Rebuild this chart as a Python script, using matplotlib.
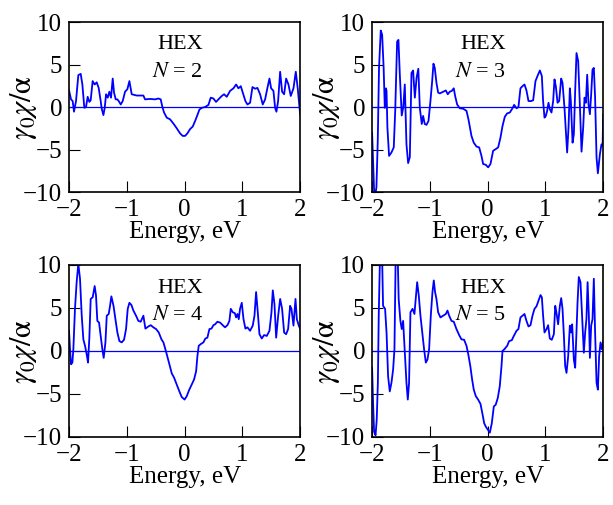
import matplotlib
matplotlib.use("Agg")
import matplotlib.pyplot as plt

plt.rcParams['font.family'] = ['Liberation Serif', 'DejaVu Serif']
plt.rcParams['mathtext.fontset'] = 'stix'

# N = 2
e2 = [-2.000, -1.965, -1.937, -1.914, -1.879, -1.839, -1.798, -1.769, -1.735, -1.706,
      -1.677, -1.648, -1.625, -1.591, -1.556, -1.521, -1.487, -1.452, -1.434, -1.405,
      -1.382, -1.359, -1.330, -1.302, -1.273, -1.244, -1.221, -1.192, -1.163, -1.140,
      -1.105, -1.071, -1.030, -0.990, -0.955, -0.915, -0.828, -0.713, -0.684, -0.597,
      -0.511, -0.453, -0.413, -0.384, -0.355, -0.309, -0.251, -0.193, -0.136, -0.078,
      -0.032, 0.009, 0.049, 0.095, 0.141, 0.182, 0.222, 0.257, 0.297, 0.355,
      0.413, 0.453, 0.499, 0.545, 0.586, 0.644, 0.684, 0.730, 0.788, 0.846,
      0.892, 0.932, 0.973, 1.007, 1.053, 1.088, 1.134, 1.175, 1.221, 1.261,
      1.307, 1.353, 1.394, 1.434, 1.469, 1.498, 1.538, 1.567, 1.590, 1.619,
      1.654, 1.688, 1.723, 1.758, 1.798, 1.838, 1.885, 1.925, 1.960, 2.000]
chi2 = [1.95, 0.9, 0.7, -0.55, 0.7, 3.75, 3.9, 2.65, -0.1, 0.0,
        1.2, 0.6, 0.8, 3.05, 2.65, 2.9, 2.25, 0.7, -0.2, -0.95,
        -0.1, 1.5, 1.1, 1.8, 1.1, 3.35, 1.7, 0.9, 0.9, 0.7,
        0.3, 0.7, 1.8, 2.1, 3.05, 1.5, 1.35, 1.35, 0.9, 0.95,
        0.9, 1.0, 0.9, 0.0, -0.65, -1.25, -1.45, -1.95, -2.5, -3.1,
        -3.4, -3.4, -3.1, -2.6, -2.3, -1.65, -0.95, -0.3, -0.1, 0.0,
        0.25, 1.1, 1.0, 0.6, 0.9, 1.3, 1.5, 1.2, 1.9, 2.2,
        2.65, 2.2, 2.45, 1.7, 0.7, 0.3, 0.5, 2.35, 2.15, 2.25,
        1.5, 0.3, 0.9, 2.25, 3.35, 2.2, 1.9, -0.1, -0.55, 0.7,
        4.15, 1.8, 1.5, 3.35, 2.65, 1.3, 2.2, 4.15, 2.1, -0.85]

# N = 3
e3 = [-2.0, -1.983, -1.965, -1.948, -1.925, -1.902, -1.88, -1.85, -1.826, -1.80,
      -1.78, -1.76, -1.75, -1.735, -1.706, -1.665, -1.625, -1.60, -1.567, -1.544,
      -1.52, -1.487, -1.46, -1.434, -1.405, -1.376, -1.347, -1.318, -1.29, -1.26,
      -1.23, -1.20, -1.174, -1.14, -1.117, -1.088, -1.059, -1.024, -0.99, -0.96,
      -0.938, -0.915, -0.886, -0.857, -0.828, -0.77, -0.724, -0.69, -0.655, -0.62,
      -0.586, -0.563, -0.528, -0.482, -0.424, -0.366, -0.332, -0.31, -0.28, -0.24,
      -0.193, -0.147, -0.107, -0.078, -0.032, 0.009, 0.049, 0.095, 0.141, 0.182,
      0.222, 0.257, 0.297, 0.338, 0.384, 0.43, 0.459, 0.50, 0.533, 0.568,
      0.603, 0.638, 0.672, 0.707, 0.753, 0.788, 0.828, 0.863, 0.904, 0.938,
      0.96, 0.984, 1.007, 1.03, 1.053, 1.076, 1.105, 1.134, 1.157, 1.18,
      1.21, 1.238, 1.273, 1.296, 1.33, 1.353, 1.376, 1.40, 1.423, 1.44,
      1.47, 1.492, 1.515, 1.538, 1.567, 1.596, 1.625, 1.654, 1.677, 1.70,
      1.723, 1.746, 1.77, 1.792, 1.815, 1.838, 1.86, 1.885, 1.908, 1.943,
      1.97, 1.99, 2.0]
chi3 = [-3.0, -6.3, -9.85, -10.5, -9.45, -4.0, 4.6, 9.0, 8.5, 4.6,
        -0.1, 2.2, 1.9, -2.4, -5.75, -5.35, -4.75, -0.5, 7.7, 7.9,
        3.8, -1.0, 0.0, 2.65, -4.4, -6.6, -5.9, 4.0, 4.3, 1.1,
        3.45, 4.5, -0.1, -2.0, -1.05, -2.0, -2.1, -1.65, 0.7, 3.05,
        5.1, 4.6, 2.85, 1.7, 1.6, 1.8, 1.95, 1.5, 1.8, 1.9,
        2.2, 1.3, 0.3, -0.15, -0.2, -0.45, -1.45, -2.25, -3.4, -4.2,
        -4.65, -4.75, -5.75, -6.7, -6.8, -7.1, -6.7, -5.15, -4.95, -4.75,
        -3.6, -2.25, -1.15, -0.75, -0.65, -0.15, 0.25, -0.15, 0.0, 2.2,
        2.45, 2.65, 1.95, 0.7, 0.7, 0.8, 3.05, 3.65, 4.3, 3.65,
        0.7, -1.25, -1.05, -0.45, 0.5, -0.25, -0.65, 0.7, 3.25, 2.45,
        0.5, 0.7, 3.35, 2.85, -0.1, -2.8, -5.35, -2.4, 2.2, 0.7,
        -4.2, -3.2, 1.9, 6.35, 5.4, 0.3, -5.25, -2.4, 1.1, 0.5,
        3.8, 0.3, -0.85, 1.5, 4.4, 4.6, 1.1, -5.95, -7.8, -5.55,
        -4.4, -4.55, -0.85]

# N = 4
e4 = [-2.0, -1.983, -1.965, -1.942, -1.925, -1.897, -1.868, -1.839, -1.81, -1.78,
      -1.752, -1.723, -1.694, -1.671, -1.648, -1.625, -1.59, -1.556, -1.533, -1.51,
      -1.48, -1.452, -1.423, -1.40, -1.37, -1.347, -1.313, -1.29, -1.267, -1.23,
      -1.197, -1.163, -1.128, -1.088, -1.048, -1.013, -0.984, -0.955, -0.92, -0.886,
      -0.84, -0.80, -0.76, -0.713, -0.678, -0.626, -0.586, -0.54, -0.493, -0.447,
      -0.40, -0.366, -0.332, -0.30, -0.263, -0.222, -0.182, -0.136, -0.09, -0.05,
      0.0, 0.038, 0.078, 0.124, 0.165, 0.20, 0.222, 0.245, 0.28, 0.326,
      0.36, 0.395, 0.43, 0.465, 0.50, 0.528, 0.568, 0.615, 0.66, 0.70,
      0.742, 0.776, 0.80, 0.834, 0.87, 0.892, 0.915, 0.938, 0.96, 0.99,
      1.02, 1.053, 1.088, 1.134, 1.18, 1.21, 1.238, 1.267, 1.296, 1.336,
      1.376, 1.423, 1.469, 1.504, 1.527, 1.556, 1.585, 1.62, 1.654, 1.688,
      1.723, 1.758, 1.792, 1.827, 1.85, 1.885, 1.92, 1.943, 1.977, 2.0]
chi4 = [2.35, 0.2, -1.55, -1.35, 0.2, 4.9, 8.0, 10.15, 8.4, 4.1,
        1.35, 0.6, -0.4, -1.35, 1.55, 6.05, 6.25, 7.55, 6.45, 3.5,
        3.3, 1.75, 0.2, -0.8, 1.0, 4.1, 4.3, 5.25, 6.35, 5.25,
        3.7, 2.15, 1.15, 1.0, 1.3, 2.55, 4.9, 5.6, 5.35, 4.7,
        4.1, 3.5, 3.4, 4.1, 2.6, 2.85, 3.0, 2.75, 2.55, 2.15,
        1.35, 1.0, 0.2, -0.6, -1.55, -2.6, -3.1, -3.9, -4.7, -5.35,
        -5.65, -5.25, -4.55, -3.9, -3.3, -2.35, -0.6, 0.6, 0.8, 1.0,
        1.45, 1.55, 2.55, 2.6, 3.0, 3.1, 3.4, 3.3, 3.0, 2.75,
        3.0, 3.5, 4.9, 4.5, 4.4, 3.9, 4.3, 3.7, 4.9, 5.6,
        3.7, 2.6, 2.75, 2.35, 2.95, 4.1, 6.85, 4.5, 1.95, 1.45,
        1.85, 1.75, 2.35, 4.5, 7.05, 5.45, 1.55, 4.1, 6.05, 4.9,
        2.15, 1.95, 2.55, 5.25, 4.9, 2.95, 6.05, 3.7, 2.95, 2.6]

# N = 5
e5 = [-2.0, -1.983, -1.965, -1.94, -1.92, -1.90, -1.885, -1.86, -1.83, -1.81,
      -1.775, -1.75, -1.723, -1.694, -1.665, -1.636, -1.613, -1.59, -1.56, -1.54,
      -1.51, -1.487, -1.463, -1.434, -1.405, -1.382, -1.36, -1.336, -1.30, -1.267,
      -1.244, -1.22, -1.192, -1.163, -1.128, -1.10, -1.07, -1.042, -1.013, -0.984,
      -0.955, -0.932, -0.91, -0.886, -0.857, -0.817, -0.77, -0.724, -0.695, -0.666,
      -0.626, -0.586, -0.54, -0.493, -0.453, -0.407, -0.366, -0.332, -0.30, -0.269,
      -0.24, -0.205, -0.165, -0.124, -0.09, -0.06, -0.032, 0.009, 0.038, 0.072,
      0.107, 0.14, 0.176, 0.21, 0.24, 0.257, 0.29, 0.338, 0.372, 0.418,
      0.453, 0.50, 0.533, 0.568, 0.603, 0.638, 0.672, 0.707, 0.742, 0.776,
      0.811, 0.846, 0.88, 0.915, 0.938, 0.96, 0.984, 1.02, 1.047, 1.076,
      1.11, 1.146, 1.17, 1.19, 1.22, 1.25, 1.273, 1.296, 1.32, 1.342,
      1.365, 1.394, 1.423, 1.446, 1.463, 1.492, 1.515, 1.538, 1.556, 1.578,
      1.607, 1.642, 1.665, 1.688, 1.71, 1.73, 1.752, 1.77, 1.792, 1.815,
      1.838, 1.86, 1.885, 1.908, 1.93, 1.954, 1.977, 2.0]
chi5 = [-1.95, -6.05, -9.4, -9.8, -8.0, -3.7, 4.1, 12.0, 12.0, 5.25,
        4.9, 2.15, -2.95, -4.7, -3.7, -2.15, 0.2, 12.0, 12.0, 6.05,
        3.5, 2.55, 3.5, -0.2, -3.7, -5.65, -3.7, 4.5, 4.9, 4.3,
        6.05, 8.0, 6.45, 4.1, 1.95, 0.2, -1.35, -1.0, 0.2, 4.1,
        6.85, 8.2, 6.85, 6.05, 4.5, 3.9, 4.1, 4.3, 4.7, 4.1,
        3.5, 3.4, 2.55, 1.85, 1.35, 1.3, 0.6, -0.5, -1.75, -3.3,
        -4.5, -5.25, -5.65, -6.15, -7.3, -8.4, -8.8, -9.2, -9.5, -8.4,
        -6.45, -6.25, -5.45, -4.1, -1.75, 0.0, 0.2, 0.6, 1.15, 1.25,
        1.75, 2.35, 2.55, 3.9, 4.1, 4.3, 3.5, 2.85, 3.0, 4.1,
        4.9, 5.2, 5.85, 6.5, 6.25, 4.1, 2.15, 2.55, 3.0, 1.45,
        1.3, 1.95, 5.25, 4.5, 3.1, 5.25, 6.15, 4.9, 1.75, -1.75,
        -2.55, -0.6, 2.95, 2.15, 3.1, -1.0, -1.95, 2.15, 5.65, 8.6,
        8.0, 2.95, -0.2, 2.15, 3.7, 8.0, 4.1, -0.8, 2.95, 3.7,
        8.4, 2.15, -3.7, -4.5, -0.6, 1.0, 0.2, 1.15]

panels = [(e2, chi2, "2"), (e3, chi3, "3"), (e4, chi4, "4"), (e5, chi5, "5")]
boxes = [[0.1126, 0.6198, 0.377, 0.3366],
         [0.607, 0.6198, 0.377, 0.3366],
         [0.1126, 0.1347, 0.377, 0.3406],
         [0.607, 0.1347, 0.377, 0.3406]]

fig = plt.figure(figsize=(6.13, 5.05), dpi=100)

for (e, chi, n), box in zip(panels, boxes):
    ax = fig.add_axes(box)
    ax.axhline(0, color='#0000ff', lw=0.9)
    ax.plot(e, chi, color='#0000ff', lw=1.3)
    ax.set_xlim(-2, 2)
    ax.set_ylim(-10, 10)
    ax.set_xticks([-2, -1, 0, 1, 2])
    ax.set_yticks([-10, -5, 0, 5, 10])
    ax.tick_params(direction='in', length=8, width=0.8, labelsize=18,
                   top=False, right=False, pad=5)
    for s in ax.spines.values():
        s.set_linewidth(1.2)
    ax.set_xlabel("Energy, eV", fontsize=18, labelpad=0)
    ax.set_ylabel(r"$\gamma_0\chi/\mathrm{\alpha}$", fontsize=22)
    ax.yaxis.set_label_coords(-0.13, 0.5)
    ax.text(0.48, 0.865, "HEX", transform=ax.transAxes, ha='center', va='center', fontsize=16)
    ax.text(0.47, 0.705, r"$N$ = " + n, transform=ax.transAxes, ha='center', va='center', fontsize=16)

fig.savefig("out.png", dpi=100)
